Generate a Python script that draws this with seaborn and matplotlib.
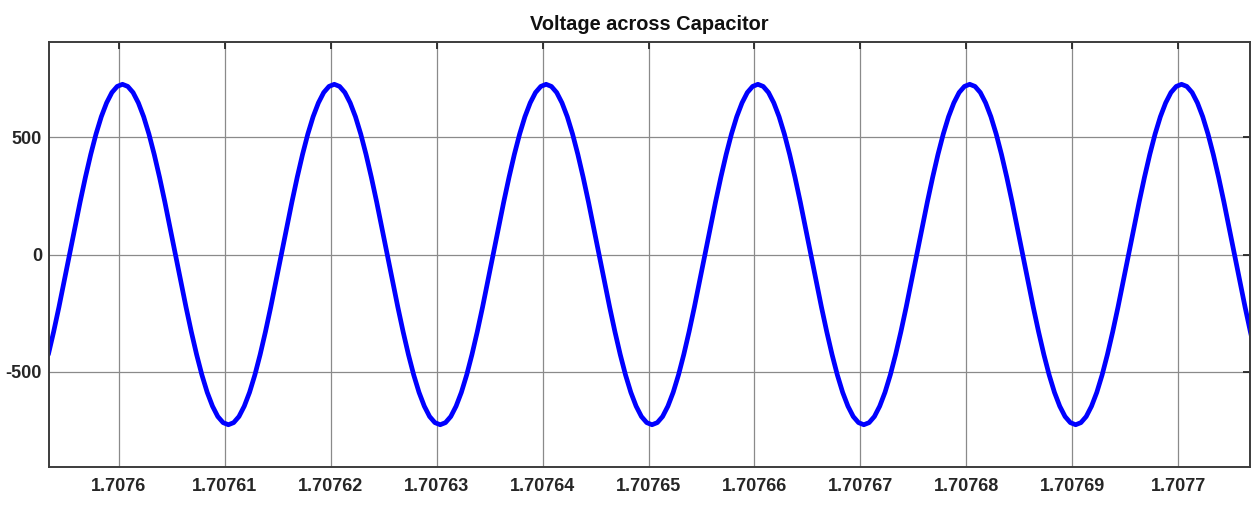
import numpy as np
import seaborn as sns
import matplotlib.pyplot as plt
from matplotlib import font_manager

t_inicio = 1.70759333
t_passo = 5e-7
tensao = [
    -426, -329, -224, -113, 0, 113, 224, 329, 426, 513, 587, 646, 690, 716,
    725, 716, 690, 646, 587, 513, 426, 329, 224, 113, 0, -113, -224, -329, -426, -513,
    -587, -646, -690, -716, -725, -716, -690, -646, -587, -513, -426, -329, -224, -113, 0, 113, 224, 329, 426, 513, 587, 646, 690, 716,
    725, 716, 690, 646, 587, 513, 426, 329, 224, 113, 0, -113, -224, -329, -426, -513,
    -587, -646, -690, -716, -725, -716, -690, -646, -587, -513, -426, -329, -224, -113, 0, 113, 224, 329, 426, 513, 587, 646, 690, 716,
    725, 716, 690, 646, 587, 513, 426, 329, 224, 113, 0, -113, -224, -329, -426, -513,
    -587, -646, -690, -716, -725, -716, -690, -646, -587, -513, -426, -329, -224, -113, 0, 113, 224, 329, 426, 513, 587, 646, 690, 716,
    725, 716, 690, 646, 587, 513, 426, 329, 224, 113, 0, -113, -224, -329, -426, -513,
    -587, -646, -690, -716, -725, -716, -690, -646, -587, -513, -426, -329, -224, -113, 0, 113, 224, 329, 426, 513, 587, 646, 690, 716,
    725, 716, 690, 646, 587, 513, 426, 329, 224, 113, 0, -113, -224, -329, -426, -513,
    -587, -646, -690, -716, -725, -716, -690, -646, -587, -513, -426, -329, -224, -113, 0, 113, 224, 329, 426, 513, 587, 646, 690, 716,
    725, 716, 690, 646, 587, 513, 426, 329, 224, 113, 0, -113, -224, -329, -426,
]
tempo = t_inicio + t_passo * np.arange(len(tensao))

x_ticks = [1.7076, 1.70761, 1.70762, 1.70763, 1.70764, 1.70765,
           1.70766, 1.70767, 1.70768, 1.70769, 1.7077]
x_labels = ['1.7076', '1.70761', '1.70762', '1.70763', '1.70764', '1.70765',
            '1.70766', '1.70767', '1.70768', '1.70769', '1.7077']
y_ticks = [-500, 0, 500]
y_labels = ['-500', '0', '500']

sns.set_style('white')
nomes = [f.name for f in font_manager.fontManager.ttflist]
if 'Liberation Sans Narrow' in nomes:
    plt.rcParams['font.family'] = ['Liberation Sans Narrow', 'DejaVu Sans']
    tam, tam_titulo = 15, 16
else:
    plt.rcParams['font.family'] = ['Liberation Sans', 'DejaVu Sans']
    tam, tam_titulo = 13, 14.4

fig = plt.figure(figsize=(12.59, 5.19), dpi=100)
ax = fig.add_axes([0.0389, 0.1002, 0.9540, 0.8188])

sns.lineplot(x=tempo, y=tensao, ax=ax, color='#0000ff', linewidth=3.4, sort=False)

ax.set_xlim(1.70759339, 1.7077068)
ax.set_ylim(-905, 905)
ax.set_xticks(x_ticks)
ax.set_xticklabels(x_labels, fontsize=tam, fontweight='bold', color='#262626')
ax.set_yticks(y_ticks)
ax.set_yticklabels(y_labels, fontsize=tam, fontweight='bold', color='#262626')
ax.tick_params(direction='in', top=True, right=True, length=5, width=1.3,
               color='#262626')
ax.tick_params(axis='x', pad=8)
ax.tick_params(axis='y', pad=5)
ax.grid(True, color='#8a8a8a', linewidth=0.9)
for s in ax.spines.values():
    s.set_color('#3c3c3c')
    s.set_linewidth(1.4)

ax.set_title('Voltage across Capacitor', fontsize=tam_titulo, fontweight='bold',
             pad=9, color='#111111')

fig.savefig('out.png', dpi=100)
